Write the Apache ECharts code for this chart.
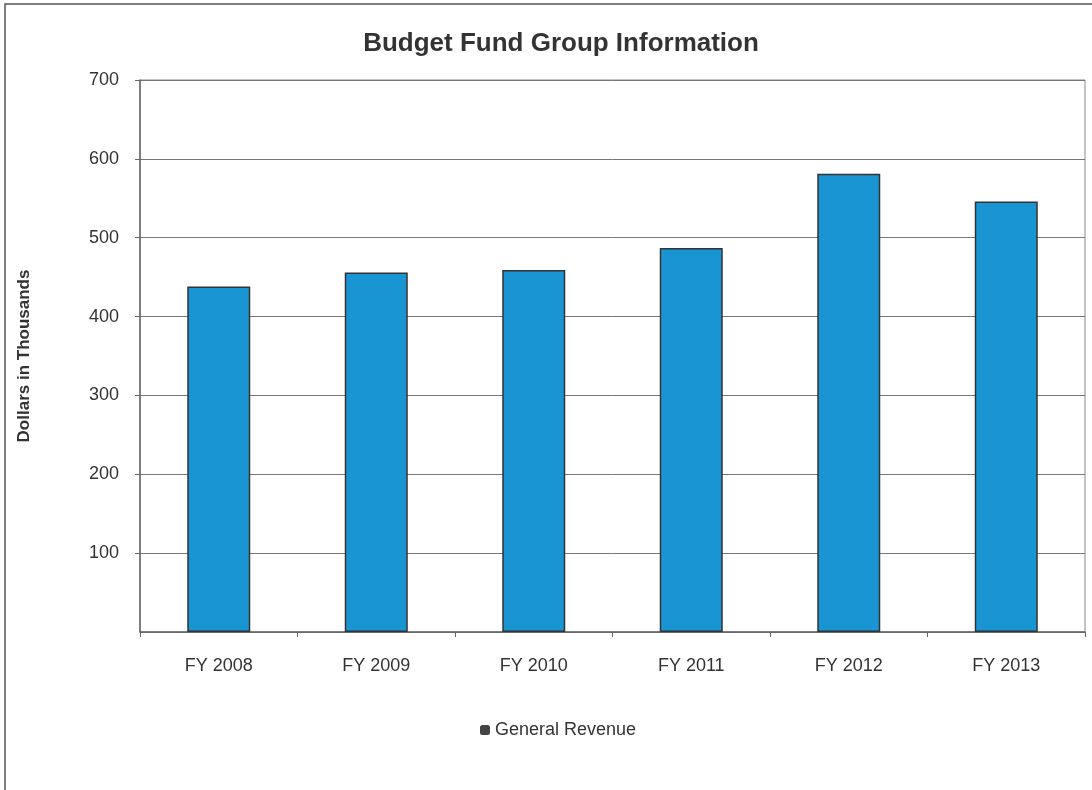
<!DOCTYPE html>
<html>
<head>
<meta charset="utf-8">
<script src="https://cdn.jsdelivr.net/npm/echarts@6/dist/echarts.min.js"></script>
<style>html,body{margin:0;padding:0;background:#fff;}#c{width:1092px;height:790px;}</style>
</head>
<body>
<div id="c"></div>
<script>
const categories = ['FY 2008', 'FY 2009', 'FY 2010', 'FY 2011', 'FY 2012', 'FY 2013'];
const generalRevenue = [438, 456, 459, 487, 581, 546];
const seriesName = 'General Revenue';
const titleText = 'Budget Fund Group Information';
const yAxisName = 'Dollars in Thousands';

const chart = echarts.init(document.getElementById('c'));
chart.setOption({
  animation: false,
  backgroundColor: '#fff',
  textStyle: { fontFamily: 'Liberation Sans, Arial, sans-serif' },
  graphic: [
    { type: 'rect', shape: { x: 5, y: 4, width: 1100, height: 800 }, style: { fill: 'none', stroke: '#555', lineWidth: 1.5 }, z: -1 }
  ],
  title: {
    text: titleText, left: 556, textAlign: 'center', top: 26,
    textStyle: { fontSize: 26, fontWeight: 'bold', color: '#333', fontFamily: 'Liberation Sans, Arial, sans-serif' }
  },
  legend: {
    data: [seriesName], bottom: 46, left: 475,
    icon: 'roundRect', itemWidth: 10, itemHeight: 10, itemGap: 3,
    textStyle: { fontSize: 18, color: '#333' },
    itemStyle: { color: '#444', borderWidth: 0 }
  },
  grid: { left: 140, right: 7, top: 80, bottom: 158, show: true, borderColor: '#888', borderWidth: 1 },
  xAxis: {
    type: 'category', data: categories,
    axisLine: { lineStyle: { color: '#666', width: 1.5 } },
    axisTick: { show: true, inside: false, length: 5, alignWithLabel: false, lineStyle: { color: '#666' } },
    axisLabel: { fontSize: 18, color: '#333', margin: 25 }
  },
  yAxis: {
    type: 'value', min: 0, max: 700, interval: 100,
    name: yAxisName, nameLocation: 'middle', nameGap: 107,
    nameTextStyle: { fontSize: 17, fontWeight: 'bold', color: '#333' },
    axisLine: { show: true, lineStyle: { color: '#666', width: 1.5 } },
    axisTick: { show: true, length: 5, lineStyle: { color: '#666' } },
    axisLabel: { fontSize: 18, color: '#333', margin: 21, showMinLabel: false, formatter: v => v === 0 ? '' : v },
    splitLine: { show: true, lineStyle: { color: '#777', width: 1 } }
  },
  series: [{
    name: seriesName, type: 'bar', data: generalRevenue, barWidth: '40%',
    itemStyle: { color: '#1995d3', borderColor: '#333', borderWidth: 1.5 }
  }]
});
</script>
</body>
</html>
